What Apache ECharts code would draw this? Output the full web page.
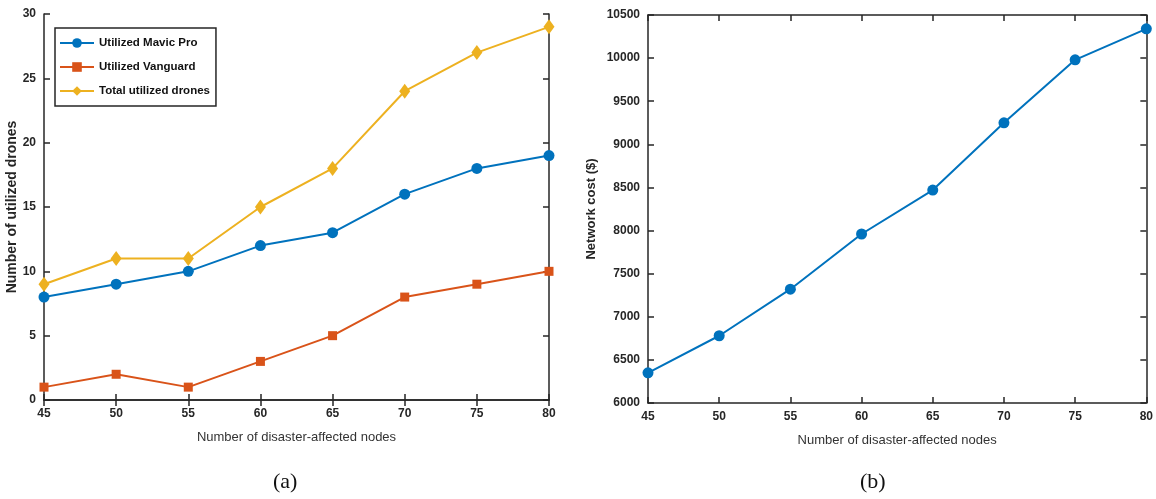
<!DOCTYPE html>
<html>
<head>
<meta charset="utf-8">
<script src="https://cdn.jsdelivr.net/npm/echarts@6/dist/echarts.min.js"></script>
<style>
html,body{margin:0;padding:0;background:#fff;}
#chart{width:1156px;height:499px;}
</style>
</head>
<body>
<div id="chart"></div>
<script>
const nodes = [45, 50, 55, 60, 65, 70, 75, 80];
const mavicPro = [8, 9, 10, 12, 13, 16, 18, 19];
const vanguard = [1, 2, 1, 3, 5, 8, 9, 10];
const totalDrones = [9, 11, 11, 15, 18, 24, 27, 29];
const networkCost = [6350, 6780, 7320, 7960, 8470, 9250, 9980, 10340];

const seriesNames = ['Utilized Mavic Pro', 'Utilized Vanguard', 'Total utilized drones'];
const colors = ['#0072BD', '#D95319', '#EDB120'];

const pairs = arr => nodes.map((x, i) => [x, arr[i]]);

const font = 'Liberation Sans, Arial, sans-serif';
const axisLine = { show: true, lineStyle: { color: '#262626', width: 1.5 } };
const tickIn = { show: true, inside: true, length: 6, lineStyle: { color: '#262626', width: 1.5 } };
const lbl = { color: '#262626', fontFamily: font, fontWeight: 'bold', fontSize: 12, formatter: v => String(v) };

function xAxes(gi) {
  return [
    { gridIndex: gi, type: 'value', min: 45, max: 80, interval: 5,
      axisLine, axisTick: tickIn, splitLine: { show: false },
      axisLabel: Object.assign({ margin: 8 }, lbl),
      name: 'Number of disaster-affected nodes', nameLocation: 'middle', nameGap: 31,
      nameTextStyle: { color: '#333', fontFamily: font, fontSize: 13 } },
    { gridIndex: gi, type: 'value', position: 'top', min: 45, max: 80, interval: 5,
      axisLine, axisTick: tickIn, splitLine: { show: false }, axisLabel: { show: false } }
  ];
}

const option = {
  backgroundColor: '#fff',
  animation: false,
  title: [
    { text: '(a)', left: 268, top: 466, textStyle: { fontFamily: 'Liberation Serif, serif', fontWeight: 'normal', fontSize: 22, color: '#111' } },
    { text: '(b)', left: 855, top: 466, textStyle: { fontFamily: 'Liberation Serif, serif', fontWeight: 'normal', fontSize: 22, color: '#111' } }
  ],
  grid: [
    { left: 44, right: 607, top: 14, bottom: 99 },
    { left: 648, right: 7, top: 15, bottom: 96 }
  ],
  legend: {
    data: seriesNames,
    orient: 'vertical',
    left: 55, top: 28,
    itemWidth: 34, itemHeight: 12, itemGap: 12,
    padding: [9, 6, 9, 4],
    borderColor: '#262626', borderWidth: 1.5,
    backgroundColor: '#fff',
    textStyle: { color: '#111', fontFamily: font, fontWeight: 'bold', fontSize: 11.5 }
  },
  xAxis: [...xAxes(0), ...xAxes(1)],
  yAxis: [
    { gridIndex: 0, type: 'value', min: 0, max: 30, interval: 5,
      axisLine, axisTick: tickIn, splitLine: { show: false },
      axisLabel: Object.assign({ margin: 8 }, lbl),
      name: 'Number of utilized drones', nameLocation: 'middle', nameGap: 23,
      nameTextStyle: { color: '#262626', fontFamily: font, fontWeight: 'bold', fontSize: 14 } },
    { gridIndex: 0, type: 'value', position: 'right', min: 0, max: 30, interval: 5,
      axisLine, axisTick: tickIn, splitLine: { show: false }, axisLabel: { show: false } },
    { gridIndex: 1, type: 'value', min: 6000, max: 10500, interval: 500,
      axisLine, axisTick: tickIn, splitLine: { show: false },
      axisLabel: Object.assign({ margin: 8 }, lbl),
      name: 'Network cost ($)', nameLocation: 'middle', nameGap: 50,
      nameTextStyle: { color: '#262626', fontFamily: font, fontWeight: 'bold', fontSize: 13 } },
    { gridIndex: 1, type: 'value', position: 'right', min: 6000, max: 10500, interval: 500,
      axisLine, axisTick: tickIn, splitLine: { show: false }, axisLabel: { show: false } }
  ],
  series: [
    { name: seriesNames[0], type: 'line', xAxisIndex: 0, yAxisIndex: 0, data: pairs(mavicPro),
      symbol: 'circle', symbolSize: 11, color: colors[0], lineStyle: { width: 2 } },
    { name: seriesNames[1], type: 'line', xAxisIndex: 0, yAxisIndex: 0, data: pairs(vanguard),
      symbol: 'rect', symbolSize: 9, color: colors[1], lineStyle: { width: 2 } },
    { name: seriesNames[2], type: 'line', xAxisIndex: 0, yAxisIndex: 0, data: pairs(totalDrones),
      symbol: 'diamond', symbolSize: [11, 15], color: colors[2], lineStyle: { width: 2 } },
    { name: 'Network cost', type: 'line', xAxisIndex: 2, yAxisIndex: 2, data: pairs(networkCost),
      symbol: 'circle', symbolSize: 11, color: colors[0], lineStyle: { width: 2 } }
  ]
};

echarts.init(document.getElementById('chart')).setOption(option);
</script>
</body>
</html>
